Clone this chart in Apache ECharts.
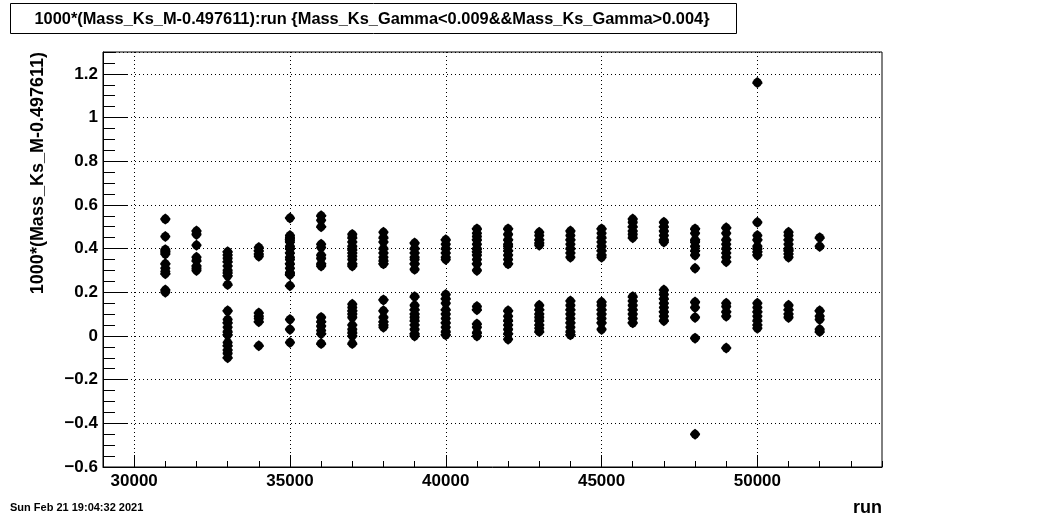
<!DOCTYPE html>
<html>
<head>
<meta charset="utf-8">
<script src="https://cdn.jsdelivr.net/npm/echarts@6/dist/echarts.min.js"></script>
<style>
html,body{margin:0;padding:0;background:#fff;}
#chart{width:1038px;height:519px;}
</style>
</head>
<body>
<div id="chart"></div>
<script>
// ---- data ----
const titleText = '1000*(Mass_Ks_M-0.497611):run {Mass_Ks_Gamma<0.009&&Mass_Ks_Gamma>0.004}';
const yTitle = '1000*(Mass_Ks_M-0.497611)';
const xTitle = 'run';
const dateText = 'Sun Feb 21 19:04:32 2021';

const runs = [31000, 32000, 33000, 34000, 35000, 36000, 37000, 38000, 39000, 40000, 41000,
              42000, 43000, 44000, 45000, 46000, 47000, 48000, 49000, 50000, 51000, 52000];

const m31000 = [0.535, 0.455, 0.395, 0.385, 0.375, 0.33, 0.31, 0.295, 0.285, 0.21, 0.20];
const m32000 = [0.48, 0.465, 0.415, 0.36, 0.345, 0.32, 0.31, 0.30];
const m33000 = [0.385, 0.37, 0.355, 0.34, 0.32, 0.30, 0.29, 0.275, 0.235, 0.115, 0.075, 0.06, 0.04, 0.02, 0.005, -0.03, -0.045, -0.065, -0.08, -0.10];
const m34000 = [0.405, 0.39, 0.375, 0.365, 0.105, 0.09, 0.08, 0.065, -0.045];
const m35000 = [0.54, 0.46, 0.45, 0.44, 0.43, 0.41, 0.40, 0.38, 0.36, 0.35, 0.33, 0.31, 0.29, 0.28, 0.23, 0.075, 0.03, -0.03];
const m36000 = [0.55, 0.53, 0.50, 0.42, 0.405, 0.37, 0.355, 0.33, 0.32, 0.085, 0.065, 0.045, 0.025, 0.01, -0.035];
const m37000 = [0.465, 0.45, 0.43, 0.41, 0.395, 0.38, 0.365, 0.35, 0.33, 0.32, 0.145, 0.13, 0.115, 0.10, 0.085, 0.05, 0.03, 0.015, 0.0, -0.035];
const m38000 = [0.475, 0.45, 0.43, 0.40, 0.38, 0.36, 0.345, 0.33, 0.165, 0.115, 0.085, 0.065, 0.05, 0.04];
const m39000 = [0.425, 0.40, 0.38, 0.36, 0.35, 0.33, 0.305, 0.18, 0.14, 0.12, 0.10, 0.085, 0.07, 0.05, 0.03, 0.01, 0.0];
const m40000 = [0.44, 0.42, 0.40, 0.38, 0.36, 0.35, 0.19, 0.17, 0.15, 0.12, 0.10, 0.08, 0.06, 0.04, 0.02, 0.005];
const m41000 = [0.49, 0.47, 0.455, 0.44, 0.42, 0.40, 0.385, 0.37, 0.35, 0.33, 0.30, 0.135, 0.12, 0.055, 0.04, 0.015, 0.0];
const m42000 = [0.49, 0.465, 0.44, 0.42, 0.41, 0.39, 0.37, 0.35, 0.33, 0.115, 0.09, 0.07, 0.05, 0.03, 0.01, -0.015];
const m43000 = [0.475, 0.46, 0.44, 0.425, 0.415, 0.14, 0.12, 0.10, 0.085, 0.07, 0.05, 0.035, 0.02];
const m44000 = [0.48, 0.46, 0.44, 0.42, 0.40, 0.38, 0.36, 0.16, 0.14, 0.12, 0.10, 0.08, 0.06, 0.04, 0.02, 0.005];
const m45000 = [0.49, 0.47, 0.45, 0.43, 0.41, 0.39, 0.37, 0.36, 0.155, 0.14, 0.12, 0.10, 0.08, 0.06, 0.03];
const m46000 = [0.535, 0.52, 0.50, 0.48, 0.465, 0.45, 0.18, 0.16, 0.14, 0.12, 0.10, 0.08, 0.06];
const m47000 = [0.52, 0.50, 0.48, 0.46, 0.44, 0.43, 0.21, 0.19, 0.17, 0.15, 0.13, 0.11, 0.09, 0.07];
const m48000 = [0.49, 0.47, 0.44, 0.43, 0.41, 0.39, 0.37, 0.31, 0.155, 0.13, 0.085, -0.01, -0.45];
const m49000 = [0.495, 0.47, 0.44, 0.42, 0.40, 0.38, 0.36, 0.34, 0.15, 0.135, 0.11, 0.09, -0.055];
const m50000 = [1.16, 0.52, 0.46, 0.44, 0.41, 0.40, 0.385, 0.37, 0.15, 0.13, 0.11, 0.09, 0.07, 0.05, 0.035];
const m51000 = [0.475, 0.46, 0.44, 0.42, 0.40, 0.39, 0.375, 0.36, 0.14, 0.12, 0.10, 0.085];
const m52000 = [0.45, 0.41, 0.115, 0.09, 0.075, 0.03, 0.02];

const xMajorTicks = [30000, 35000, 40000, 45000, 50000];

// ---- build ----
const massByRun = [m31000, m32000, m33000, m34000, m35000, m36000, m37000, m38000, m39000, m40000, m41000,
                   m42000, m43000, m44000, m45000, m46000, m47000, m48000, m49000, m50000, m51000, m52000];
const points = [];
runs.forEach((r, i) => massByRun[i].forEach(v => points.push([r, v])));

const FONT = 'Liberation Sans';
const dotted = {color: '#000', width: 1, type: [1, 3]};

const chart = echarts.init(document.getElementById('chart'), null, {renderer: 'canvas'});
chart.setOption({
  animation: false,
  backgroundColor: '#fff',
  grid: {left: 103, right: 156, top: 52, bottom: 52, show: true, borderColor: '#000', borderWidth: 1, backgroundColor: '#fff', containLabel: false},
  xAxis: [
    {
      type: 'value', min: 29000, max: 54000, interval: 1000, position: 'bottom',
      axisLine: {show: true, onZero: false, lineStyle: {color: '#000', width: 1}},
      axisTick: {show: true, inside: true, length: 6, lineStyle: {color: '#000'}},
      axisLabel: {show: true, customValues: xMajorTicks, margin: 6, color: '#000', fontFamily: FONT, fontWeight: 'bold', fontSize: 17,
                  formatter: v => String(v)},
      splitLine: {show: false}
    },
    {
      type: 'value', min: 29000, max: 54000, interval: 1000, position: 'bottom',
      axisLine: {show: false, onZero: false},
      axisTick: {show: true, inside: true, length: 12, customValues: xMajorTicks, lineStyle: {color: '#000'}},
      axisLabel: {show: false},
      splitLine: {show: true, lineStyle: dotted}
    }
  ],
  yAxis: [
    {
      type: 'value', min: -0.6, max: 1.3, interval: 0.2, position: 'left',
      axisLine: {show: true, onZero: false, lineStyle: {color: '#000', width: 1}},
      axisTick: {show: true, inside: true, length: 24, lineStyle: {color: '#000'}},
      axisLabel: {show: true, showMaxLabel: false, margin: 5, color: '#000', fontFamily: FONT, fontWeight: 'bold', fontSize: 17,
                  formatter: v => { const s = String(Math.round(v * 10) / 10); return s.replace('-', '\u2212'); }},
      splitLine: {show: true, lineStyle: dotted}
    },
    {
      type: 'value', min: -0.6, max: 1.3, interval: 0.05, position: 'left',
      axisLine: {show: false, onZero: false},
      axisTick: {show: true, inside: true, length: 12, lineStyle: {color: '#000'}},
      axisLabel: {show: false},
      splitLine: {show: false}
    }
  ],
  series: [{
    type: 'scatter',
    xAxisIndex: 0, yAxisIndex: 0,
    data: points,
    symbol: 'path://M5,0 L8,2 L10,4.5 L10,5.5 L8,8 L5,10 L2,8 L0,5.5 L0,4.5 L2,2 Z',
    symbolSize: [10, 11],
    itemStyle: {color: '#000', opacity: 1},
    emphasis: {disabled: true},
    z: 5
  }],
  graphic: [
    {type: 'rect', shape: {x: 10.5, y: 3.5, width: 726, height: 30}, style: {fill: '#fff', stroke: '#000', lineWidth: 1}, z: 10},
    {type: 'text', x: 372, y: 19, z: 11, style: {text: titleText, fill: '#000', font: 'bold 16.4px "Liberation Sans"', textAlign: 'center', textVerticalAlign: 'middle'}},
    {type: 'text', x: 38, y: 52, rotation: Math.PI / 2, z: 11, style: {text: yTitle, fill: '#000', font: 'bold 18px "Liberation Sans"', textAlign: 'right', textVerticalAlign: 'middle'}},
    {type: 'text', x: 882, y: 508, z: 11, style: {text: xTitle, fill: '#000', font: 'bold 18px "Liberation Sans"', textAlign: 'right', textVerticalAlign: 'middle'}},
    {type: 'text', x: 10, y: 508, z: 11, style: {text: dateText, fill: '#000', font: 'bold 11px "Liberation Sans"', textAlign: 'left', textVerticalAlign: 'middle'}}
  ]
});
</script>
</body>
</html>
